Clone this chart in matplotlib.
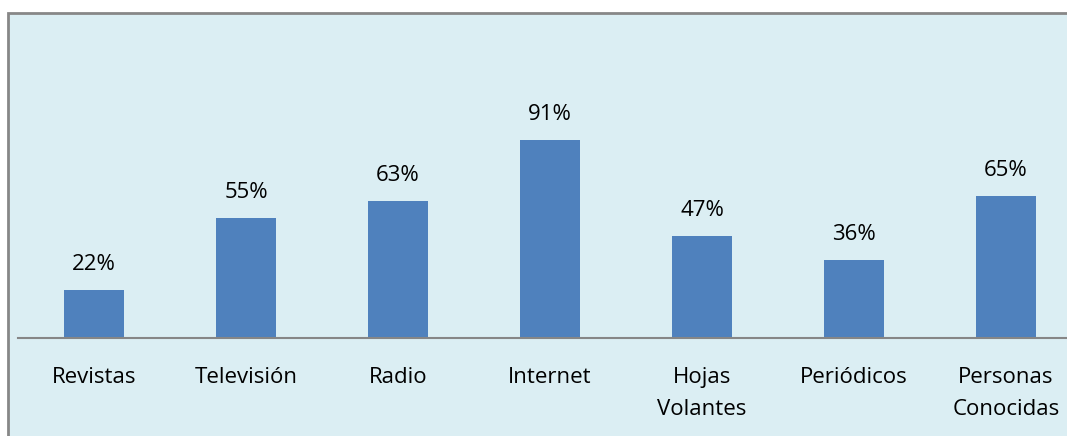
import matplotlib.pyplot as plt
from matplotlib.patches import Rectangle

categorias = ["Revistas", "Televisión", "Radio", "Internet", "Hojas\nVolantes", "Periódicos", "Personas\nConocidas"]
porcentajes = [22, 55, 63, 91, 47, 36, 65]

plt.rcParams['font.family'] = ['Open Sans', 'DejaVu Sans']

fig = plt.figure(figsize=(10.67, 4.36), dpi=100)
W, H = 1067, 436

# marco del grafico con fondo celeste
fig.patches.append(Rectangle((7.5 / W, -0.1), 1.2, (436 - 13.5) / H + 0.1,
                             transform=fig.transFigure, facecolor='#DBEEF3',
                             edgecolor='#878787', linewidth=2, zorder=-5))

# eje: 0% en y=338 px, 100% en y=120 px; categorias cada 152 px desde x=18
ax = fig.add_axes([18 / W, (H - 338) / H, 7 * 152 / W, (338 - 120) / H])
ax.set_facecolor('none')
x = range(len(categorias))
bars = ax.bar(x, porcentajes, width=0.4, color='#4F81BD', zorder=2)
ax.set_xlim(-0.5, 6.5)
ax.set_ylim(0, 100)

for b, v in zip(bars, porcentajes):
    ax.annotate(f"{v}%", (b.get_x() + b.get_width() / 2, v), xytext=(0, 15),
                textcoords='offset pixels', ha='center', va='bottom', fontsize=16, color='#000000')

for s in ['top', 'left', 'right']:
    ax.spines[s].set_visible(False)
ax.spines['bottom'].set_color('#868686')
ax.spines['bottom'].set_linewidth(1.5)
ax.set_yticks([])
ax.set_xticks(list(x))
ax.set_xticklabels(categorias, fontsize=16, linespacing=1.7)
ax.tick_params(axis='x', length=0, pad=21)

fig.savefig('out.png', dpi=100)
